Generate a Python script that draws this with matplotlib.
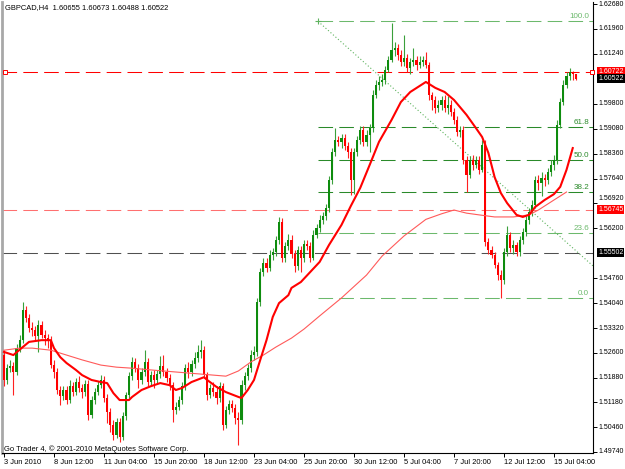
import matplotlib
matplotlib.use("Agg")
import matplotlib.pyplot as plt
import matplotlib.transforms as mtransforms
import numpy as np

# GBPCAD H4 candles
opens = [1.5254, 1.5182, 1.5216, 1.5222, 1.5205, 1.5274, 1.5297, 1.5384, 1.5361, 1.5332, 1.5326, 1.5309, 1.5341, 1.5312, 1.5303, 1.5297,
         1.5225, 1.5205, 1.5153, 1.5136, 1.5153, 1.5124, 1.5164, 1.5147, 1.5176, 1.5159, 1.5147, 1.5170, 1.5081, 1.5124, 1.5147, 1.5167,
         1.5182, 1.5130, 1.5089, 1.5052, 1.5023, 1.5060, 1.5017, 1.5078, 1.5138, 1.5193, 1.5234, 1.5216, 1.5182, 1.5205, 1.5234, 1.5176,
         1.5196, 1.5182, 1.5199, 1.5222, 1.5205, 1.5188, 1.5167, 1.5095, 1.5104, 1.5124, 1.5164, 1.5216, 1.5205, 1.5228, 1.5245, 1.5263,
         1.5268, 1.5196, 1.5138, 1.5159, 1.5147, 1.5130, 1.5164, 1.5052, 1.5095, 1.5112, 1.5101, 1.5072, 1.5066, 1.5167, 1.5193, 1.5216,
         1.5254, 1.5263, 1.5407, 1.5494, 1.5520, 1.5505, 1.5543, 1.5552, 1.5586, 1.5638, 1.5534, 1.5569, 1.5586, 1.5546, 1.5511, 1.5557,
         1.5534, 1.5575, 1.5569, 1.5534, 1.5601, 1.5621, 1.5644, 1.5656, 1.5679, 1.5760, 1.5841, 1.5875, 1.5870, 1.5881, 1.5858, 1.5841,
         1.5760, 1.5841, 1.5875, 1.5904, 1.5870, 1.5890, 1.5910, 1.6005, 1.6034, 1.6043, 1.6049, 1.6078, 1.6107, 1.6135, 1.6141, 1.6121,
         1.6101, 1.6112, 1.6083, 1.6101, 1.6107, 1.6092, 1.6101, 1.6107, 1.6092, 1.6005, 1.5991, 1.5968, 1.5977, 1.5991, 1.5968, 1.5977,
         1.5956, 1.5933, 1.5899, 1.5904, 1.5818, 1.5774, 1.5818, 1.5803, 1.5818, 1.5789, 1.5861, 1.5581, 1.5557, 1.5543, 1.5514, 1.5485,
         1.5471, 1.5552, 1.5601, 1.5563, 1.5572, 1.5552, 1.5586, 1.5610, 1.5644, 1.5667, 1.5688, 1.5760, 1.5751, 1.5766, 1.5760, 1.5783,
         1.5803, 1.5818, 1.5919, 1.5985, 1.6034, 1.6060, 1.6072, 1.60655]
highs = [1.5268, 1.5228, 1.5240, 1.5234, 1.5286, 1.5312, 1.5407, 1.5396, 1.5373, 1.5349, 1.5338, 1.5355, 1.5352, 1.5326, 1.5315, 1.5309,
         1.5240, 1.5216, 1.5164, 1.5164, 1.5164, 1.5182, 1.5176, 1.5188, 1.5193, 1.5170, 1.5182, 1.5182, 1.5136, 1.5159, 1.5179, 1.5196,
         1.5193, 1.5141, 1.5101, 1.5066, 1.5072, 1.5072, 1.5089, 1.5147, 1.5205, 1.5248, 1.5245, 1.5228, 1.5216, 1.5268, 1.5245, 1.5208,
         1.5211, 1.5211, 1.5251, 1.5254, 1.5216, 1.5199, 1.5176, 1.5118, 1.5136, 1.5176, 1.5228, 1.5234, 1.5240, 1.5263, 1.5283, 1.5297,
         1.5280, 1.5205, 1.5170, 1.5176, 1.5164, 1.5176, 1.5173, 1.5107, 1.5124, 1.5124, 1.5112, 1.5089, 1.5182, 1.5205, 1.5228, 1.5268,
         1.5280, 1.5419, 1.5505, 1.5534, 1.5534, 1.5557, 1.5563, 1.5598, 1.5653, 1.5650, 1.5581, 1.5604, 1.5601, 1.5557, 1.5569, 1.5569,
         1.5586, 1.5586, 1.5581, 1.5615, 1.5633, 1.5659, 1.5667, 1.5690, 1.5771, 1.5852, 1.5910, 1.5887, 1.5893, 1.5893, 1.5870, 1.5852,
         1.5852, 1.5887, 1.5916, 1.5916, 1.5904, 1.5922, 1.6020, 1.6049, 1.6060, 1.6066, 1.6089, 1.6118, 1.6214, 1.6159, 1.6153, 1.6135,
         1.6179, 1.6124, 1.6112, 1.6141, 1.6118, 1.6118, 1.6118, 1.6130, 1.6101, 1.6014, 1.6003, 1.5991, 1.6003, 1.6005, 1.6003, 1.5991,
         1.5968, 1.5945, 1.5916, 1.5916, 1.5829, 1.5829, 1.5832, 1.5829, 1.5829, 1.5875, 1.5875, 1.5592, 1.5569, 1.5552, 1.5523, 1.5500,
         1.5563, 1.5627, 1.5610, 1.5586, 1.5581, 1.5598, 1.5621, 1.5656, 1.5679, 1.5702, 1.5771, 1.5774, 1.5783, 1.5777, 1.5794, 1.5818,
         1.5832, 1.5933, 1.5997, 1.6049, 1.6072, 1.6083, 1.6075, 1.60673]
lows = [1.5164, 1.5170, 1.5205, 1.5138, 1.5196, 1.5263, 1.5289, 1.5349, 1.5321, 1.5309, 1.5297, 1.5263, 1.5303, 1.5283, 1.5274, 1.5216,
        1.5188, 1.5141, 1.5110, 1.5124, 1.5112, 1.5115, 1.5136, 1.5138, 1.5147, 1.5130, 1.5136, 1.5066, 1.5072, 1.5112, 1.5138, 1.5159,
        1.5118, 1.5058, 1.5032, 1.5008, 1.5014, 1.5003, 1.5008, 1.5066, 1.5130, 1.5182, 1.5205, 1.5159, 1.5170, 1.5193, 1.5164, 1.5164,
        1.5159, 1.5170, 1.5188, 1.5193, 1.5176, 1.5153, 1.5060, 1.5084, 1.5095, 1.5112, 1.5153, 1.5188, 1.5193, 1.5216, 1.5234, 1.5245,
        1.5188, 1.5124, 1.5130, 1.5136, 1.5112, 1.5118, 1.5037, 1.5043, 1.5084, 1.5089, 1.5055, 1.4994, 1.5055, 1.5153, 1.5182, 1.5205,
        1.5240, 1.5251, 1.5396, 1.5482, 1.5494, 1.5497, 1.5529, 1.5540, 1.5575, 1.5523, 1.5523, 1.5557, 1.5534, 1.5494, 1.5500, 1.5494,
        1.5523, 1.5557, 1.5523, 1.5529, 1.5592, 1.5610, 1.5633, 1.5644, 1.5667, 1.5748, 1.5829, 1.5858, 1.5852, 1.5846, 1.5823, 1.5716,
        1.5719, 1.5829, 1.5864, 1.5858, 1.5858, 1.5841, 1.5899, 1.5997, 1.6020, 1.6031, 1.6037, 1.6072, 1.6101, 1.6118, 1.6107, 1.6089,
        1.6089, 1.6072, 1.6066, 1.6089, 1.6078, 1.6083, 1.6089, 1.6083, 1.5991, 1.5962, 1.5953, 1.5956, 1.5962, 1.5956, 1.5951, 1.5945,
        1.5922, 1.5887, 1.5884, 1.5806, 1.5725, 1.5766, 1.5789, 1.5794, 1.5777, 1.5783, 1.5569, 1.5546, 1.5534, 1.5505, 1.5471, 1.5419,
        1.5459, 1.5540, 1.5552, 1.5546, 1.5540, 1.5540, 1.5575, 1.5598, 1.5633, 1.5656, 1.5679, 1.5731, 1.5714, 1.5742, 1.5748, 1.5771,
        1.5789, 1.5806, 1.5910, 1.5977, 1.6026, 1.6049, 1.6049, 1.60488]
closes = [1.5182, 1.5216, 1.5222, 1.5205, 1.5274, 1.5297, 1.5384, 1.5361, 1.5332, 1.5326, 1.5309, 1.5341, 1.5312, 1.5303, 1.5297, 1.5225,
          1.5205, 1.5153, 1.5136, 1.5153, 1.5124, 1.5164, 1.5147, 1.5176, 1.5159, 1.5147, 1.5170, 1.5081, 1.5124, 1.5147, 1.5167, 1.5182,
          1.5130, 1.5089, 1.5052, 1.5023, 1.5060, 1.5017, 1.5078, 1.5138, 1.5193, 1.5234, 1.5216, 1.5182, 1.5205, 1.5234, 1.5176, 1.5196,
          1.5182, 1.5199, 1.5222, 1.5205, 1.5188, 1.5167, 1.5095, 1.5104, 1.5124, 1.5164, 1.5216, 1.5205, 1.5228, 1.5245, 1.5263, 1.5268,
          1.5196, 1.5138, 1.5159, 1.5147, 1.5130, 1.5164, 1.5052, 1.5095, 1.5112, 1.5101, 1.5072, 1.5066, 1.5167, 1.5193, 1.5216, 1.5254,
          1.5263, 1.5407, 1.5494, 1.5520, 1.5505, 1.5543, 1.5552, 1.5586, 1.5638, 1.5534, 1.5569, 1.5586, 1.5546, 1.5511, 1.5557, 1.5534,
          1.5575, 1.5569, 1.5534, 1.5601, 1.5621, 1.5644, 1.5656, 1.5679, 1.5760, 1.5841, 1.5875, 1.5870, 1.5881, 1.5858, 1.5841, 1.5760,
          1.5841, 1.5875, 1.5904, 1.5870, 1.5890, 1.5910, 1.6005, 1.6034, 1.6043, 1.6049, 1.6078, 1.6107, 1.6135, 1.6141, 1.6121, 1.6101,
          1.6112, 1.6083, 1.6101, 1.6107, 1.6092, 1.6101, 1.6107, 1.6092, 1.6005, 1.5991, 1.5968, 1.5977, 1.5991, 1.5968, 1.5977, 1.5956,
          1.5933, 1.5899, 1.5904, 1.5818, 1.5774, 1.5818, 1.5803, 1.5818, 1.5789, 1.5861, 1.5581, 1.5557, 1.5543, 1.5514, 1.5485, 1.5471,
          1.5552, 1.5601, 1.5563, 1.5572, 1.5552, 1.5586, 1.5610, 1.5644, 1.5667, 1.5688, 1.5760, 1.5751, 1.5766, 1.5760, 1.5783, 1.5803,
          1.5818, 1.5919, 1.5985, 1.6034, 1.6060, 1.6072, 1.6066, 1.60522]

# moving averages (thick = fast, thin = slow), sampled at bar numbers
fast_idx = [0, 3, 6, 8, 12, 15, 16, 18, 20, 23, 25, 28, 31, 33, 35, 37, 40, 41, 44, 47, 50, 53, 55, 57, 60, 64, 65, 68, 71, 75,
            76, 78, 80, 82, 84, 86, 88, 91, 92, 95, 98, 101, 104, 108, 111, 114, 117, 120, 124, 127, 130, 135, 138, 141, 144, 148,
            151, 153, 155, 157, 159, 161, 164, 166, 168, 170, 173, 176, 178, 180, 182]
fast_val = [1.5263, 1.5254, 1.5277, 1.5292, 1.5297, 1.5297, 1.5274, 1.5248, 1.5231, 1.5211, 1.5196, 1.5182, 1.5176, 1.5173,
            1.5144, 1.5124, 1.5124, 1.5133, 1.5153, 1.5164, 1.5173, 1.5167, 1.5153, 1.5159, 1.5176, 1.5190, 1.5182, 1.5162,
            1.5147, 1.5133, 1.5130, 1.5153, 1.5182, 1.5240, 1.5297, 1.5364, 1.5404, 1.5427, 1.5448, 1.5465, 1.5494, 1.5523,
            1.5572, 1.5630, 1.5685, 1.5737, 1.5803, 1.5870, 1.5933, 1.5985, 1.6014, 1.6043, 1.6026, 1.6014, 1.5991, 1.5948,
            1.5910, 1.5884, 1.5838, 1.5768, 1.5722, 1.5693, 1.5659, 1.5653, 1.5659, 1.5682, 1.5702, 1.5719, 1.5740, 1.5789, 1.5852]
slow_idx = [0, 5, 9, 15, 20, 25, 31, 36, 41, 47, 63, 71, 75, 79, 83, 87, 92, 96, 101, 108, 116, 121, 128, 135, 140, 144, 148,
            152, 157, 163, 168, 171, 176, 180]
slow_val = [1.5268, 1.5274, 1.5274, 1.5268, 1.5254, 1.5240, 1.5225, 1.5219, 1.5216, 1.5211, 1.5199, 1.5193, 1.5208, 1.5234,
            1.5254, 1.5277, 1.5303, 1.5329, 1.5367, 1.5419, 1.5485, 1.5540, 1.5598, 1.5646, 1.5662, 1.5673, 1.5664, 1.5659,
            1.5653, 1.5653, 1.5659, 1.5673, 1.5702, 1.5725]

# fibonacci retracement
fib_start = 100.5
fib_high = 1.6218
fib_low = 1.5419
fib_levels = [0.0, 23.6, 38.2, 50.0, 61.8, 100.0]

# horizontal lines
red_line = 1.60722
pink_line = 1.56745
gray_line = 1.55502
bid = 1.60522

xtick_pos = [0, 16, 32, 48, 64, 80, 96, 112, 128, 144, 160, 176]
xtick_lab = ["3 Jun 2010", "8 Jun 12:00", "11 Jun 04:00", "15 Jun 20:00", "18 Jun 12:00", "23 Jun 04:00",
             "25 Jun 20:00", "30 Jun 12:00", "5 Jul 04:00", "7 Jul 20:00", "12 Jul 12:00", "15 Jul 04:00"]
ytick_pos = [1.4974, 1.5046, 1.5118, 1.5188, 1.5260, 1.5332, 1.5404, 1.5476, 1.5620, 1.5692,
             1.5764, 1.5836, 1.5908, 1.5980, 1.6124, 1.6196, 1.6268]

plt.rcParams['font.family'] = ['Liberation Sans', 'DejaVu Sans']
fs = 5.4
yfs = 5.0

fig = plt.figure(figsize=(6.25, 4.69), dpi=100)
ax = fig.add_axes([2/625, 16/469, 591/625, 451/469])

o = np.array(opens); h = np.array(highs); l = np.array(lows); c = np.array(closes)
x = np.arange(len(c))
up = c >= o
col = np.where(up, '#0e8c0e', '#ff0000')
wick = np.where(up, '#3aa03a', '#ff2020')

ax.vlines(x, l, h, colors=wick, lw=0.8, zorder=3)
ax.bar(x, np.maximum(np.abs(c - o), 0.00012), bottom=np.minimum(o, c), width=0.7,
       color=col, linewidth=0, zorder=4)

ax.plot(slow_idx, slow_val, color='#ff5a5a', lw=0.8, zorder=5)
ax.plot(fast_idx, fast_val, color='#ff0000', lw=1.5, zorder=6)

# fibo
dash = (0, (14, 6))
xr = 188.4
for lev in fib_levels:
    p = fib_low + (fib_high - fib_low) * lev / 100
    fc = '#2a8a2a' if lev in (38.2, 50.0, 61.8) else '#6cb96c'
    ax.plot([fib_start, xr], [p, p], color=fc, lw=0.75, linestyle=dash, zorder=2)
    ax.text(187.2, p + 0.0003, "%.1f" % lev, color=fc, fontsize=5.8, ha='right', va='bottom', zorder=7)
ax.plot([fib_start, 200], [fib_high, fib_low], color='#5fb35f', lw=0.8, linestyle=(0, (1, 2)), zorder=2)
ax.plot([fib_start], [fib_high], marker='+', color='#5fb35f', ms=4, mew=0.8, zorder=2)

ax.axhline(red_line, color='#ff0000', lw=0.75, linestyle=dash, zorder=2)
ax.axhline(pink_line, color='#ff7070', lw=0.75, linestyle=dash, zorder=2)
ax.axhline(gray_line, color='#505050', lw=0.75, linestyle=dash, zorder=2)
ax.plot([0.3, 188.0], [red_line, red_line], linestyle='none', marker='s', ms=3,
        mfc='white', mec='#ff0000', mew=0.7, zorder=7, clip_on=False)

ax.set_xlim(-0.64, 188.48)
ax.set_ylim(1.4971, 1.6274)

# right price scale: tick marks from matplotlib, labels written next to them
tr = mtransforms.blended_transform_factory(fig.transFigure, ax.transData)
ax.yaxis.tick_right()
ax.set_yticks(ytick_pos)
ax.set_yticklabels([])
for v in ytick_pos:
    yv = v + 0.0013 if abs(v - 1.5692) < 1e-6 else v
    ax.text(598/625, yv, "%.5f" % v, transform=tr, fontsize=yfs, va='center', ha='left', clip_on=False)

ax.set_xticks(xtick_pos)
ax.set_xticklabels(xtick_lab)
for lab in ax.get_xticklabels():
    lab.set_horizontalalignment('left')
ax.tick_params(axis='both', labelsize=fs, length=3, width=0.7, pad=1.5, colors='black')

ax.spines['top'].set_visible(False)
ax.spines['left'].set_color('#a8a8a8')
ax.spines['left'].set_linewidth(2)
ax.spines['right'].set_linewidth(0.8)
ax.spines['bottom'].set_linewidth(0.8)

# price boxes on the right scale
for val, bg in [(red_line, '#ff0000'), (bid, '#000000'), (pink_line, '#ff0000'), (gray_line, '#000000')]:
    ax.text(598/625, val, "%.5f" % val, transform=tr, fontsize=yfs, color='white', va='center', ha='left',
            bbox=dict(boxstyle='square,pad=0.15', fc=bg, ec='none'), zorder=10, clip_on=False)

fig.text(5/625, 1 - 8/469, "GBPCAD,H4  1.60655 1.60673 1.60488 1.60522", fontsize=fs, va='center', ha='left')
fig.text(4/625, 1 - 449/469, "Go Trader 4, \u00a9 2001-2010 MetaQuotes Software Corp.", fontsize=fs,
         va='center', ha='left')

fig.savefig("out.png", dpi=100)
